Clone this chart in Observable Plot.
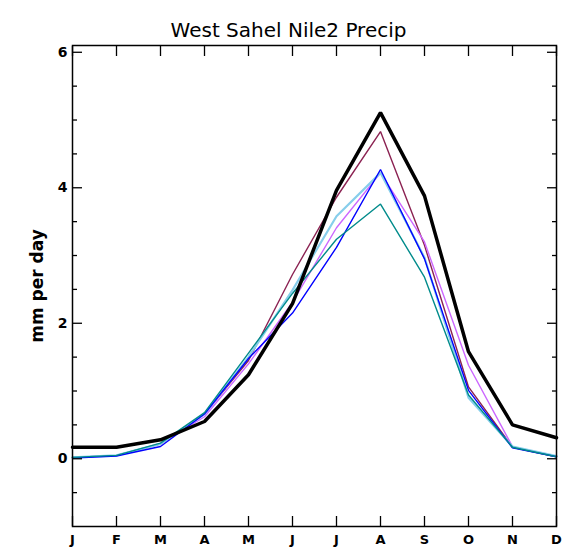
<!DOCTYPE html>
<html>
<head>
<meta charset="utf-8">
<script src="https://cdn.jsdelivr.net/npm/d3@7"></script>
<script src="https://cdn.jsdelivr.net/npm/@observablehq/plot@0.6"></script>
<style>
  html, body { margin: 0; padding: 0; background: #fff; }
  #chart { width: 567px; height: 549px; }
</style>
</head>
<body>
<div id="chart"></div>
<script>
const monthLabels = ["J","F","M","A","M","J","J","A","S","O","N","D"];
const monthIndex = [0,1,2,3,4,5,6,7,8,9,10,11];

const seriesNames = ["maroon","violet","skyblue","blue","teal","obs"];
const seriesColors = ["#8b2252","#cc66ff","#87ceeb","#0000ff","#008b8b","#000000"];
const seriesWidths = [1.4,1.4,2.2,1.4,1.4,3.5];

const maroon  = [0.02,0.05,0.22,0.66,1.45,2.72,3.86,4.83,3.15,1.06,0.17,0.03];
const violet  = [0.02,0.05,0.22,0.62,1.40,2.31,3.41,4.22,3.20,1.38,0.18,0.03];
const skyblue = [0.02,0.05,0.22,0.66,1.50,2.49,3.58,4.22,2.97,0.90,0.18,0.04];
const blue    = [0.01,0.04,0.18,0.66,1.48,2.15,3.12,4.27,2.95,1.01,0.16,0.03];
const teal    = [0.02,0.05,0.23,0.68,1.56,2.44,3.24,3.76,2.68,0.94,0.17,0.03];
const obs     = [0.17,0.17,0.28,0.55,1.24,2.29,3.96,5.11,3.88,1.58,0.50,0.31];

const seriesValues = [maroon, violet, skyblue, blue, teal, obs];

const yMajor = [0,2,4,6];
const yMinor = [-0.5,0.5,1,1.5,2.5,3,3.5,4.5,5,5.5];

const font = "'DejaVu Sans', sans-serif";
const noText = () => "";

const marks = [];
seriesNames.forEach((name, i) => {
  const rows = monthIndex.map(m => ({month: m, value: seriesValues[i][m], series: name}));
  marks.push(Plot.line(rows, {x: "month", y: "value", stroke: seriesColors[i], strokeWidth: seriesWidths[i], strokeLinejoin: "miter"}));
});

const plot = Plot.plot({
  width: 567,
  height: 549,
  marginTop: 45,
  marginBottom: 23,
  marginLeft: 72,
  marginRight: 11,
  style: {fontFamily: font, background: "#fff", color: "#000", overflow: "visible"},
  x: {domain: [0, 11]},
  y: {domain: [-1, 6.1]},
  marks: [
    ...marks,
    Plot.frame({stroke: "#000", strokeWidth: 1.5}),
    Plot.axisX({anchor: "bottom", ticks: monthIndex, tickSize: -10, tickPadding: 18, tickFormat: i => monthLabels[i], fontSize: 13, fontWeight: "bold", strokeWidth: 1.3, label: null}),
    Plot.axisX({anchor: "top", ticks: monthIndex, tickSize: -10, tickFormat: noText, label: null, strokeWidth: 1.3}),
    Plot.axisY({anchor: "left", ticks: yMajor, tickSize: -10, tickPadding: 15, tickFormat: d => String(d), fontSize: 14, fontWeight: "bold", label: null, strokeWidth: 1.3}),
    Plot.axisY({anchor: "left", ticks: yMinor, tickSize: -5, tickFormat: noText, label: null, strokeWidth: 1.3}),
    Plot.axisY({anchor: "right", ticks: yMajor, tickSize: -10, tickFormat: noText, label: null, strokeWidth: 1.3}),
    Plot.axisY({anchor: "right", ticks: yMinor, tickSize: -5, tickFormat: noText, label: null, strokeWidth: 1.3}),
    Plot.text(["mm per day"], {frameAnchor: "left", textAnchor: "middle", dx: -35, rotate: -90, fontSize: 17, fontWeight: "bold", fill: "#000"}),
    Plot.text(["West Sahel Nile2 Precip"], {frameAnchor: "top", dy: -23, dx: -26, fontSize: 20, letterSpacing: 1, fill: "#000"})
  ]
});
document.getElementById("chart").appendChild(plot);
</script>
</body>
</html>
